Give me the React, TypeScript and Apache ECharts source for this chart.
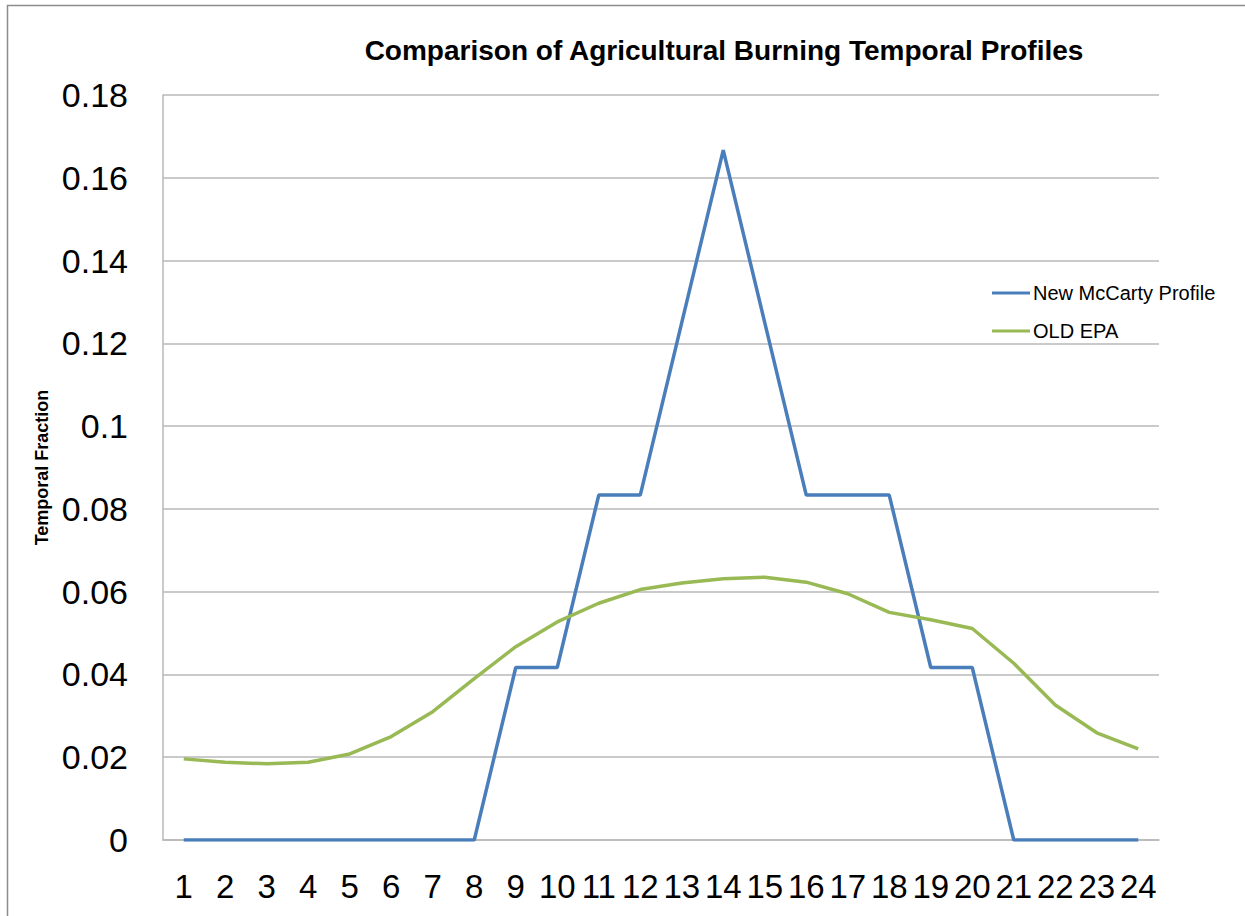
import React, { useEffect, useRef } from "react";
import * as echarts from "echarts";

const hours = ["1","2","3","4","5","6","7","8","9","10","11","12","13","14","15","16","17","18","19","20","21","22","23","24"];
const newMcCarty = [0,0,0,0,0,0,0,0,0.04167,0.04167,0.08333,0.08333,0.125,0.16667,0.125,0.08333,0.08333,0.08333,0.04167,0.04167,0,0,0,0];
const oldEPA = [0.0196,0.0188,0.0184,0.0188,0.0208,0.0250,0.0310,0.0390,0.0467,0.0527,0.0572,0.0605,0.0621,0.0631,0.0635,0.0623,0.0595,0.0550,0.0532,0.0511,0.0427,0.0326,0.0259,0.0220];
const seriesNames = ["New McCarty Profile", "OLD EPA"];
const titleText = "Comparison of Agricultural Burning Temporal Profiles";
const yAxisName = "Temporal Fraction";

export default function App() {
  const ref = useRef<HTMLDivElement>(null);
  useEffect(() => {
    document.body.style.margin = "0";
    const chart = echarts.init(ref.current!, null, { renderer: "svg" });
    const font = "'Liberation Sans', Arial, sans-serif";
    chart.setOption({
      animation: false,
      backgroundColor: "#ffffff",
      textStyle: { fontFamily: font },
      title: {
        text: titleText,
        left: 719,
        top: 31,
        textAlign: "center",
        textStyle: { fontFamily: font, fontWeight: "bold", fontSize: 28, color: "#000" },
      },
      graphic: [
        {
          type: "rect",
          shape: { x: 7.5, y: 5.5, width: 1260, height: 930 },
          style: { fill: "none", stroke: "#8c8c8c", lineWidth: 1.5 },
          silent: true,
        },
      ],
      legend: {
        orient: "vertical",
        left: 992,
        top: 283,
        padding: 0,
        itemWidth: 38,
        itemHeight: 3,
        itemGap: 18,
        icon: "rect",
        textStyle: { fontFamily: font, fontSize: 20, color: "#000", lineHeight: 20, padding: [0, 0, 0, -2] },
        data: seriesNames,
      },
      grid: { left: 163, right: 86, top: 95, bottom: 76, containLabel: false },
      xAxis: {
        type: "category",
        data: hours,
        boundaryGap: true,
        axisLine: { lineStyle: { color: "#b8b8b8", width: 1.5 } },
        axisTick: { show: false },
        axisLabel: { interval: 0, fontFamily: font, fontSize: 33, color: "#000", margin: 30 },
      },
      yAxis: {
        type: "value",
        min: 0,
        max: 0.18,
        interval: 0.02,
        name: yAxisName,
        nameLocation: "middle",
        nameRotate: 90,
        nameGap: 106,
        nameTextStyle: { fontFamily: font, fontWeight: "bold", fontSize: 18, color: "#000" },
        axisLine: { show: true, lineStyle: { color: "#b8b8b8", width: 1.5 } },
        axisTick: { show: false },
        splitLine: { lineStyle: { color: "#b8b8b8", width: 1.5 } },
        axisLabel: {
          fontFamily: font,
          fontSize: 34,
          color: "#000",
          margin: 35,
          formatter: (v: number) => String(+v.toFixed(2)),
        },
      },
      series: [
        {
          name: seriesNames[0],
          type: "line",
          data: newMcCarty,
          symbol: "none",
          lineStyle: { color: "#4a7ebb", width: 3.5 },
          itemStyle: { color: "#4a7ebb" },
        },
        {
          name: seriesNames[1],
          type: "line",
          data: oldEPA,
          symbol: "none",
          lineStyle: { color: "#98b954", width: 3.5 },
          itemStyle: { color: "#98b954" },
        },
      ],
    });
    return () => chart.dispose();
  }, []);
  return <div ref={ref} style={{ width: 1245, height: 916 }} />;
}
